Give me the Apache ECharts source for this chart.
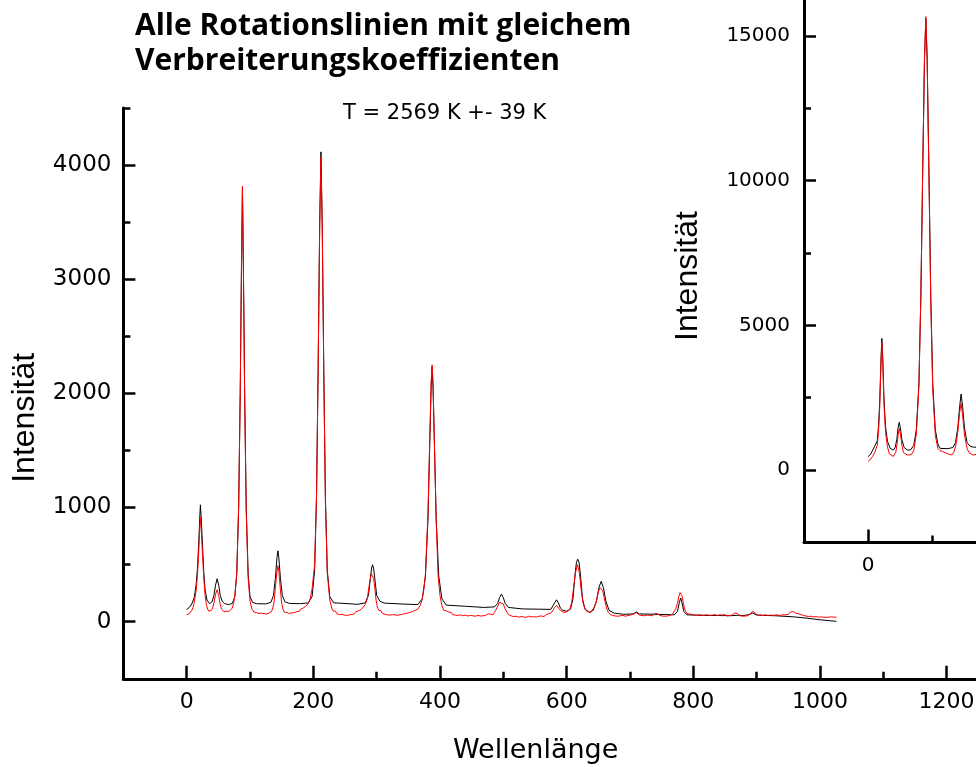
<!DOCTYPE html>
<html>
<head>
<meta charset="utf-8">
<script src="https://cdn.jsdelivr.net/npm/echarts@6/dist/echarts.min.js"></script>
<style>
html,body{margin:0;padding:0;background:#fff;overflow:hidden;}
#chart{width:976px;height:767px;}
</style>
</head>
<body>
<div id="chart"></div>
<script>
// ---------- data ----------
const titleText = 'Alle Rotationslinien mit gleichem\nVerbreiterungskoeffizienten';
const annotationText = 'T = 2569 K +- 39 K';
const xName = 'Wellenlänge';
const yName = 'Intensität';

const mainXTicks = [0, 200, 400, 600, 800, 1000, 1200];
const mainXMinor = [-100, 100, 300, 500, 700, 900, 1100, 1300];
const mainYTicks = [0, 1000, 2000, 3000, 4000];
const mainYMinor = [-500, 500, 1500, 2500, 3500, 4500];
const insetXTicks = [0, 200, 400, 600, 800, 1000, 1200];
const insetXMinor = [-100, 100, 300, 500, 700, 900, 1100, 1300];
const insetYTicks = [0, 5000, 10000, 15000];
const insetYMinor = [-2500, 2500, 7500, 12500, 17500];

// fitted spectrum (black), main plot
const mainFit = [[0,108],[4,125],[8,155],[12,215],[15,330],[17,470],[19,700],[20.5,900],[21.6,1024],[23,900],[25,660],[27,430],[29,280],[32,190],[36,158],[40,175],[43,230],[45.5,320],[48,376],[50.5,320],[53,230],[56,180],[60,158],[66,150],[72,160],[76,220],[79,420],[82,1000],[84.5,2000],[86.5,3100],[88,3790],[89.5,3100],[91.5,2000],[94,1000],[97,420],[100,220],[104,170],[110,158],[125,156],[133,170],[137,230],[140,380],[142.5,560],[144,621],[145.5,560],[148,380],[151,230],[155,175],[162,160],[180,158],[192,165],[198,220],[202,450],[205,1100],[207.5,2200],[210,3500],[212,4115],[214,3500],[216.5,2200],[219,1100],[222,450],[226,220],[232,165],[250,160],[270,152],[282,165],[287,230],[290,380],[292,470],[293.5,499],[295,470],[297,380],[300,230],[305,180],[312,163],[340,155],[365,150],[372,200],[377,400],[381,900],[384,1600],[386,2050],[387.5,2230],[389,2050],[391,1600],[394,900],[398,400],[403,200],[410,145],[440,135],[470,125],[486,130],[491,160],[494,210],[497,242],[500,210],[503,160],[508,125],[530,112],[575,108],[578,125],[581,165],[584,192],[587,165],[590,120],[594,100],[600,92],[606,110],[610,200],[613,400],[615.5,520],[617.5,548],[619.5,520],[622,400],[625,200],[629,110],[636,82],[642,100],[647,180],[651,300],[654.5,353],[658,300],[662,180],[667,100],[675,75],[690,65],[705,68],[710,85],[715,68],[740,65],[770,60],[775,90],[778,170],[780,207],[782,170],[785,90],[790,60],[820,55],[860,53],[870,56],[880,55],[888,62],[894,76],[900,58],[930,52],[960,42],[978,32],[1000,17],[1026,3]];

// measured spectrum (red), main plot
const mainMeasured = [[0,60],[2,52],[4,70],[6,80],[8,100],[10,125],[12,170],[15,280],[17,410],[19,620],[20.5,800],[21.6,913],[23,800],[25,580],[27,380],[29,230],[31,150],[33,110],[35,92],[37,85],[39,100],[41,120],[43,165],[45.5,240],[48,280],[50.5,230],[53,150],[55,110],[57,95],[59,88],[61,100],[63,92],[65,96],[67,90],[70,100],[72,120],[74,160],[76,230],[79,420],[82,1000],[84.5,2000],[86.5,3150],[88,3815],[89.5,3100],[91.5,1950],[94,950],[97,380],[100,180],[103,110],[106,85],[108,70],[110,80],[112,65],[114,72],[116,58],[118,75],[120,62],[122,70],[124,55],[126,68],[128,60],[130,75],[132,70],[134,90],[136,120],[138,170],[140,300],[142.5,440],[144,490],[145.5,440],[148,280],[150,160],[152,110],[154,85],[156,95],[158,80],[160,90],[162,72],[164,85],[166,78],[168,92],[170,80],[172,95],[174,88],[176,100],[178,92],[180,110],[182,105],[184,120],[186,115],[188,135],[190,140],[192,160],[195,200],[198,290],[202,500],[205,1100],[207.5,2200],[210,3450],[212,4066],[214,3450],[216.5,2150],[219,1050],[222,420],[226,190],[229,120],[231,95],[233,80],[235,92],[237,70],[239,85],[241,62],[243,78],[245,65],[247,80],[249,58],[251,70],[253,55],[255,72],[257,60],[259,75],[261,64],[263,80],[265,70],[267,88],[269,78],[271,95],[273,90],[275,105],[277,110],[279,130],[282,150],[285,200],[288,310],[290,380],[291.5,420],[293,426],[295,380],[297,300],[299,190],[301,130],[303,100],[305,85],[307,95],[309,72],[311,80],[313,65],[315,78],[317,60],[319,72],[321,58],[323,70],[325,62],[327,75],[329,60],[331,68],[333,55],[335,72],[337,62],[339,78],[341,65],[343,58],[345,72],[347,60],[349,75],[351,68],[353,82],[355,74],[357,90],[359,85],[361,100],[363,95],[365,110],[367,120],[369,145],[372,200],[375,300],[377,420],[381,950],[384,1650],[386,2100],[387.5,2250],[389,2100],[391,1600],[394,880],[397,400],[400,230],[403,140],[406,100],[408,90],[410,95],[412,78],[414,85],[416,70],[418,80],[420,62],[422,75],[424,58],[426,70],[428,55],[430,68],[432,60],[434,72],[436,52],[438,65],[440,58],[442,70],[444,50],[446,62],[448,55],[450,68],[452,52],[454,60],[456,48],[458,65],[460,55],[462,62],[464,50],[466,58],[468,52],[470,66],[472,55],[474,60],[476,70],[478,58],[480,65],[482,75],[484,62],[486,80],[488,100],[491,135],[494,170],[497,186],[500,155],[503,110],[506,80],[508,62],[510,70],[512,52],[514,60],[516,45],[518,58],[520,48],[522,62],[524,40],[526,55],[528,45],[530,58],[532,42],[534,52],[536,38],[538,55],[540,48],[542,60],[544,42],[546,55],[548,45],[550,58],[552,40],[554,52],[556,48],[558,62],[560,50],[562,58],[564,45],[566,55],[568,62],[570,58],[572,70],[574,68],[576,80],[579,105],[581,125],[584,143],[587,120],[590,100],[593,85],[596,80],[599,88],[602,90],[605,110],[608,170],[611,300],[614,430],[617,499],[620,430],[623,280],[626,160],[629,110],[632,90],[635,78],[638,82],[641,95],[644,130],[647,180],[650,260],[652.5,300],[654.5,309],[657,270],[660,190],[663,120],[666,80],[669,62],[671,70],[673,55],[675,65],[677,50],[679,62],[681,48],[683,58],[685,52],[687,65],[689,55],[691,60],[693,48],[695,62],[697,55],[699,68],[701,58],[703,70],[705,65],[707,72],[710,80],[713,65],[715,58],[717,45],[719,55],[721,40],[723,52],[725,45],[727,58],[729,48],[731,55],[733,62],[735,52],[737,60],[739,70],[741,65],[743,72],[745,60],[747,55],[749,62],[751,50],[753,58],[755,48],[757,55],[759,50],[761,62],[763,55],[765,68],[767,65],[769,80],[772,110],[775,160],[777,220],[779,255],[780,265],[782,230],[784,170],[786,120],[788,90],[790,70],[792,60],[794,68],[796,52],[798,62],[800,48],[802,58],[804,45],[806,55],[808,50],[810,62],[812,48],[814,56],[816,45],[818,58],[820,50],[822,60],[824,47],[826,55],[828,42],[830,58],[832,50],[834,62],[836,48],[838,55],[840,45],[842,60],[844,52],[846,58],[848,48],[850,62],[852,55],[854,50],[856,60],[858,55],[860,65],[862,60],[864,72],[866,78],[868,82],[870,70],[872,60],[874,52],[876,58],[878,48],[880,55],[882,50],[884,58],[886,52],[888,65],[890,70],[892,82],[894,90],[896,85],[898,75],[900,62],[902,55],[904,48],[906,58],[908,45],[910,55],[912,50],[914,60],[916,47],[918,55],[920,50],[922,58],[924,45],[926,55],[928,52],[930,60],[932,50],[934,58],[936,48],[938,55],[940,52],[942,62],[944,55],[946,60],[948,70],[950,65],[952,78],[954,85],[956,80],[958,88],[960,90],[962,75],[964,85],[966,70],[968,78],[970,62],[972,70],[974,55],[976,62],[978,50],[980,58],[982,45],[984,52],[986,48],[988,55],[990,42],[992,50],[994,45],[996,52],[998,40],[1000,48],[1002,42],[1004,50],[1006,40],[1008,48],[1010,38],[1012,45],[1014,40],[1016,47],[1018,42],[1020,45],[1022,40],[1024,44],[1026,40]];

// inset: fitted (black) and measured (red)
const insetFit = [[0,460],[4,560],[7,690],[10,820],[14,1000],[16,1500],[18,2400],[20,3900],[21.3,4550],[22.7,3900],[24.5,2500],[27,1500],[30,1000],[34,760],[39,690],[42,780],[44.5,1050],[46.5,1450],[48.3,1650],[50.2,1450],[52.5,1050],[56,780],[61,690],[66,700],[71,850],[75,1400],[79,3000],[82,6000],[85,10500],[87.7,14200],[89.8,15600],[91.8,14200],[94.5,10500],[97.5,6000],[100.5,3000],[104.5,1400],[108.5,900],[112,750],[124,740],[132,780],[136,950],[139.5,1450],[142.5,2200],[144.7,2630],[147,2200],[150,1450],[154,950],[159,820],[164,790],[180,800],[200,820],[230,850]];
const insetMeasured = [[0,300],[2,270],[4,380],[7,470],[10,600],[14,850],[16,1300],[18,2200],[20,3700],[21.3,4400],[22.7,3700],[24.5,2300],[27,1300],[30,800],[33,560],[36,500],[39,470],[41,520],[43,620],[45,900],[46.8,1250],[48.3,1440],[50.2,1250],[52.5,850],[55,600],[58,540],[61,520],[64,550],[67,530],[71,680],[75,1250],[79,2900],[82,6000],[85,10500],[87.7,14300],[89.8,15670],[91.8,14300],[94.5,10300],[97.5,5800],[100.5,2800],[104.5,1200],[108.5,750],[112,670],[116,640],[120,600],[124,560],[127,540],[130,520],[133,600],[136,800],[139.5,1300],[142.5,2000],[144.7,2300],[147,1900],[150,1200],[154,750],[157,600],[160,540],[163,520],[166,530],[169,545],[173,520],[177,550],[181,530],[185,560],[189,540],[194,580],[200,560],[210,590],[220,570],[230,600]];

// ---------- chart ----------
const chart = echarts.init(document.getElementById('chart'), null, {renderer: 'canvas'});

const tickFont = 'DejaVu Sans';
const nameFont = 'Liberation Sans';
const black = '#000000';
const plain = v => String(v);

function majorX(gridIndex, ticks, min, max, fontSize, margin, extra) {
  return Object.assign({
    type: 'value', gridIndex, min, max, position: 'bottom',
    axisLine: {show: true, onZero: false, lineStyle: {color: black, width: 3}},
    axisTick: {show: true, inside: true, length: 13, customValues: ticks, lineStyle: {color: black, width: 2.5}},
    axisLabel: {show: true, customValues: ticks, formatter: plain, margin, color: black, fontFamily: tickFont, fontSize},
    splitLine: {show: false}
  }, extra || {});
}
function minorX(gridIndex, ticks, min, max) {
  return {
    type: 'value', gridIndex, min, max, position: 'bottom', offset: 0,
    axisLine: {show: false, onZero: false},
    axisTick: {show: true, inside: true, length: 7, customValues: ticks, lineStyle: {color: black, width: 2.5}},
    axisLabel: {show: false},
    splitLine: {show: false}
  };
}
function majorY(gridIndex, ticks, min, max, fontSize, margin, extra) {
  return Object.assign({
    type: 'value', gridIndex, min, max, position: 'left',
    axisLine: {show: true, onZero: false, lineStyle: {color: black, width: 3}},
    axisTick: {show: true, inside: true, length: 12, customValues: ticks, lineStyle: {color: black, width: 2.5}},
    axisLabel: {show: true, customValues: ticks, formatter: plain, margin, color: black, fontFamily: tickFont, fontSize},
    splitLine: {show: false}
  }, extra || {});
}
function minorY(gridIndex, ticks, min, max) {
  return {
    type: 'value', gridIndex, min, max, position: 'left', offset: 0,
    axisLine: {show: false, onZero: false},
    axisTick: {show: true, inside: true, length: 7, customValues: ticks, lineStyle: {color: black, width: 2.5}},
    axisLabel: {show: false},
    splitLine: {show: false}
  };
}

const option = {
  animation: false,
  backgroundColor: '#ffffff',
  title: [
    {
      text: titleText, left: 130, top: 4,
      textStyle: {fontFamily: 'Open Sans', fontWeight: 'bold', fontSize: 30, lineHeight: 35, color: black}
    },
    {
      text: annotationText, left: 338, top: 98,
      textStyle: {fontFamily: 'DejaVu Sans', fontWeight: 'normal', fontSize: 21, lineHeight: 22, color: black}
    }
  ],
  grid: [
    {left: 123.4, top: 107.9, width: 886.5, height: 570.9, containLabel: false, outerBoundsMode: 'none'},
    {left: 804, top: -36.3, width: 898.8, height: 578.7, containLabel: false, outerBoundsMode: 'none'}
  ],
  xAxis: [
    majorX(0, mainXTicks, -100, 1300, 22, 12, {
      name: xName, nameLocation: 'middle', nameGap: 59,
      nameTextStyle: {fontFamily: tickFont, fontSize: 27, color: black, lineHeight: 27, padding: [0, 62, 0, 0]}
    }),
    minorX(0, mainXMinor, -100, 1300),
    majorX(1, insetXTicks, -100, 1300, 20, 13),
    minorX(1, insetXMinor, -100, 1300)
  ],
  yAxis: [
    majorY(0, mainYTicks, -500, 4500, 23, 12, {
      name: yName, nameLocation: 'middle', nameGap: 82,
      nameTextStyle: {fontFamily: nameFont, fontSize: 32, color: black, lineHeight: 32, padding: [0, 49, 0, 0]}
    }),
    minorY(0, mainYMinor, -500, 4500),
    majorY(1, insetYTicks, -2500, 17500, 20, 14, {
      name: yName, nameLocation: 'middle', nameGap: 100,
      nameTextStyle: {fontFamily: nameFont, fontSize: 32, color: black, lineHeight: 32, padding: [0, 46, 0, 0]}
    }),
    minorY(1, insetYMinor, -2500, 17500)
  ],
  series: [
    {type: 'line', name: 'Fit', xAxisIndex: 0, yAxisIndex: 0, data: mainFit, showSymbol: false, symbol: 'none',
     lineStyle: {color: '#000000', width: 1}, z: 3},
    {type: 'line', name: 'Messung', xAxisIndex: 0, yAxisIndex: 0, data: mainMeasured, showSymbol: false, symbol: 'none',
     lineStyle: {color: '#ff0000', width: 1}, z: 4},
    {type: 'line', name: 'Fit (Inset)', xAxisIndex: 2, yAxisIndex: 2, data: insetFit, showSymbol: false, symbol: 'none',
     lineStyle: {color: '#000000', width: 1}, z: 3},
    {type: 'line', name: 'Messung (Inset)', xAxisIndex: 2, yAxisIndex: 2, data: insetMeasured, showSymbol: false, symbol: 'none',
     lineStyle: {color: '#ff0000', width: 1}, z: 4}
  ]
};
chart.setOption(option);
</script>
</body>
</html>
